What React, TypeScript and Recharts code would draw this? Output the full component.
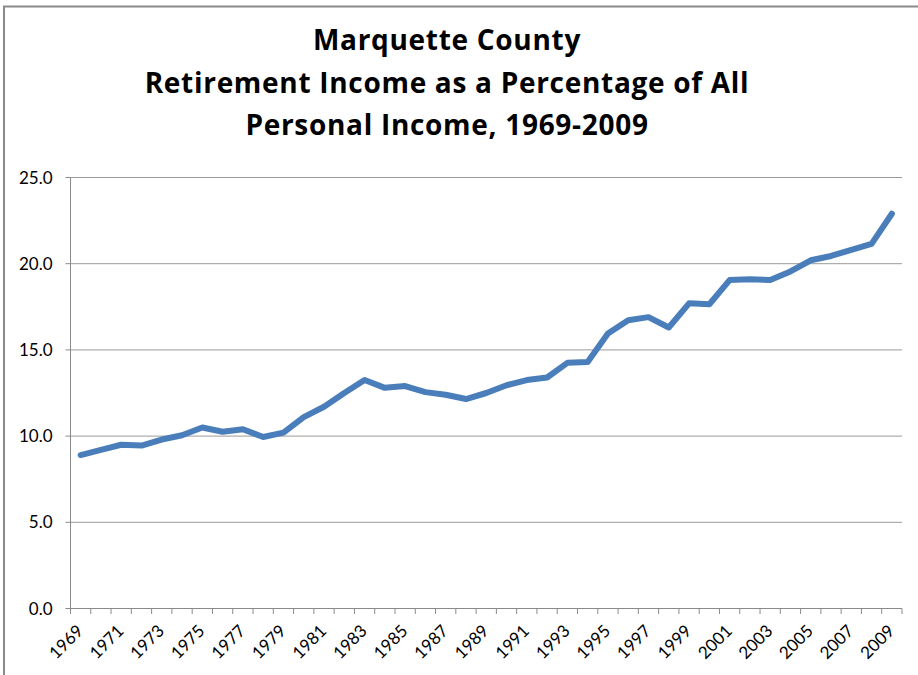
import React from 'react';
import { LineChart, Line, XAxis, YAxis, CartesianGrid } from 'recharts';

const years = [
  '1969','1970','1971','1972','1973','1974','1975','1976','1977','1978',
  '1979','1980','1981','1982','1983','1984','1985','1986','1987','1988',
  '1989','1990','1991','1992','1993','1994','1995','1996','1997','1998',
  '1999','2000','2001','2002','2003','2004','2005','2006','2007','2008','2009',
];

const retirementPct = [
  8.9, 9.2, 9.5, 9.45, 9.8, 10.05, 10.5, 10.25, 10.4, 9.95,
  10.2, 11.1, 11.7, 12.5, 13.25, 12.8, 12.9, 12.55, 12.4, 12.15,
  12.5, 12.95, 13.25, 13.4, 14.25, 14.3, 15.95, 16.72, 16.9, 16.3,
  17.7, 17.65, 19.05, 19.1, 19.05, 19.55, 20.2, 20.45, 20.8, 21.15, 22.9,
];

const yTicks = [0, 5, 10, 15, 20, 25];

const titleLines = [
  'Marquette County',
  'Retirement Income as a Percentage of All',
  'Personal Income, 1969-2009',
];

const data = years.map((y, i) => ({ year: y, pct: retirementPct[i] }));

const W = 918;
const H = 675;
const PLOT_LEFT = 70.5;
const PLOT_RIGHT = 902;
const PLOT_TOP = 177.5;
const PLOT_BOTTOM = 608.5;
const STEP = (PLOT_RIGHT - PLOT_LEFT) / years.length;
const HALF = STEP / 2;
const FONT = 'Lato, "Open Sans", sans-serif';
const TITLE_FONT = '"Open Sans", Lato, sans-serif';
const AXIS_COLOR = '#8a8a8a';

const XTick = (props: any) => {
  const { x, y, index, payload } = props;
  const last = index === years.length - 1;
  return (
    <g>
      <line x1={x - HALF} y1={y} x2={x - HALF} y2={y + 5.5} stroke={AXIS_COLOR} strokeWidth={1} />
      {last && <line x1={x + HALF} y1={y} x2={x + HALF} y2={y + 5.5} stroke={AXIS_COLOR} strokeWidth={1} />}
      {index % 2 === 0 && (
        <text
          x={x + 3.5}
          y={y + 23.5}
          textAnchor="end"
          transform={`rotate(-45, ${x + 3.5}, ${y + 23.5})`}
          fontFamily={FONT}
          fontSize={17}
          fill="#000"
        >
          {payload.value}
        </text>
      )}
    </g>
  );
};

export default function App() {
  return (
    <div style={{ position: 'absolute', left: 0, top: 0, width: W, height: H, overflow: 'hidden', background: '#fff' }}>
      <LineChart
        width={W}
        height={H}
        data={data}
        margin={{ top: PLOT_TOP, right: W - PLOT_RIGHT, bottom: H - PLOT_BOTTOM - 60, left: PLOT_LEFT - 60 }}
      >
        <CartesianGrid vertical={false} stroke="#9a9a9a" strokeWidth={1} />
        <XAxis
          dataKey="year"
          interval={0}
          height={60}
          padding={{ left: HALF, right: HALF }}
          tickLine={false}
          tickSize={0}
          tickMargin={0}
          axisLine={{ stroke: AXIS_COLOR, strokeWidth: 1 }}
          tick={<XTick />}
        />
        <YAxis
          width={60}
          domain={[0, 25]}
          ticks={yTicks}
          interval={0}
          tickFormatter={(v: number) => v.toFixed(1)}
          tickSize={5}
          tickMargin={13}
          tickLine={{ stroke: AXIS_COLOR }}
          axisLine={{ stroke: AXIS_COLOR, strokeWidth: 1 }}
          tick={{ fontFamily: FONT, fontSize: 17, fill: '#000' }}
        />
        <Line
          type="linear"
          dataKey="pct"
          stroke="#4a7ebb"
          strokeWidth={6}
          strokeLinejoin="round"
          strokeLinecap="round"
          dot={false}
          activeDot={false}
          isAnimationActive={false}
        />
      </LineChart>
      <svg width={W} height={H} style={{ position: 'absolute', left: 0, top: 0, pointerEvents: 'none' }}>
        <rect x={4} y={6.5} width={W + 20} height={H + 20} fill="none" stroke="#8a8a8a" strokeWidth={2} />
        {titleLines.map((t, i) => (
          <text
            key={i}
            x={447}
            y={50 + i * 42.5}
            textAnchor="middle"
            fontFamily={TITLE_FONT}
            fontWeight={700}
            fontSize={28}
            letterSpacing={0.7}
            fill="#000"
          >
            {t}
          </text>
        ))}
      </svg>
    </div>
  );
}
